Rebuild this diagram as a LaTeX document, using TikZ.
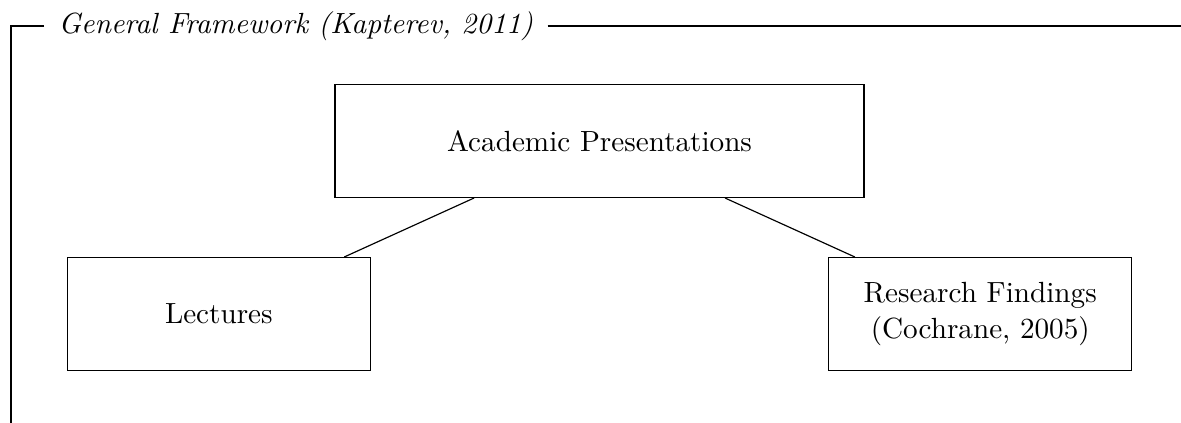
\documentclass[tikz,border=0pt]{standalone}
\usetikzlibrary{positioning}

\begin{document}
\begin{tikzpicture}[
    node distance=0.71cm and -0.44cm,
    mybox/.style={draw, align=center, minimum height=1.36cm},
    myline/.style={draw},
]

\useasboundingbox (0,0) rectangle (14.22,5.093);

% Frame
\node[anchor=west, inner sep=4.8pt, font=\itshape] (title) at (0.530,4.780) {General Framework (Kapterev, 2011)};
\coordinate (frame_tl) at (0.1325,4.780);
\coordinate (frame_bl) at (0.1325,0);
\coordinate (frame_tr) at (14.22,4.780);
\draw (title.west) -- (frame_tl) -- (frame_bl);
\draw (title.east) -- (frame_tr);

% Nodes
\node[mybox, minimum width=6.37cm] (academic) at (7.219,3.396) {Academic Presentations};
\node[mybox, minimum width=3.65cm, below left=of academic.south west] (lectures) {Lectures};
\node[mybox, minimum width=3.65cm, below right=of academic.south east] (research) {Research Findings\\(Cochrane, 2005)};

% Edges
\draw[myline] (academic) -- (lectures);
\draw[myline] (academic) -- (research);

\end{tikzpicture}
\end{document}
